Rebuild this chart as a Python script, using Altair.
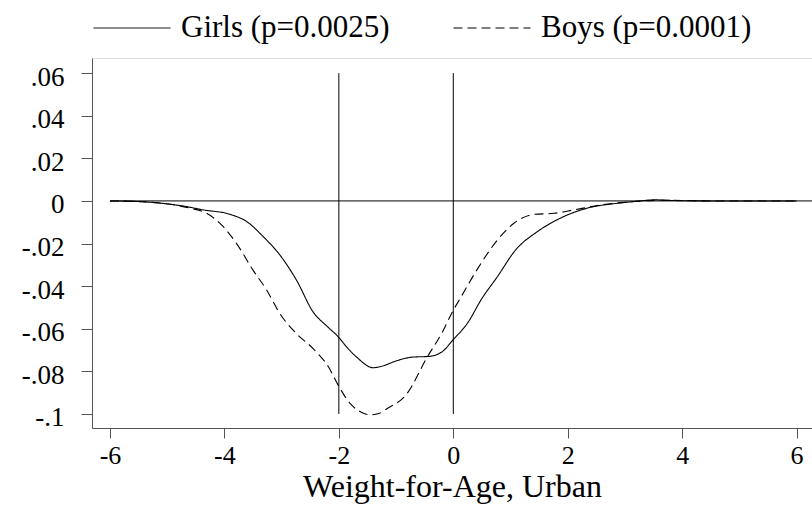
import altair as alt
import pandas as pd

# Difference curves by weight-for-age z-score
girls_x = [-6, -5.5, -5.13, -4.7, -4.37, -3.9, -3.61, -3.32, -3.03, -2.74, -2.45, -2.2,
           -2.01, -1.85, -1.69, -1.4, -1.2, -1.05, -0.7, -0.43, -0.2, 0, 0.25, 0.5, 0.77,
           1.09, 1.47, 1.87, 2.34, 2.87, 3.2, 3.51, 3.85, 4.5, 5, 6]
girls_y = [0, -0.0003, -0.001, -0.0025, -0.0042, -0.0063, -0.0097, -0.0168, -0.0254,
           -0.0372, -0.0521, -0.059, -0.0638, -0.069, -0.0733, -0.0783, -0.0772, -0.0756,
           -0.0733, -0.073, -0.0709, -0.0651, -0.0573, -0.0458, -0.0356, -0.023, -0.0144,
           -0.0081, -0.0034, -0.0011, -0.0002, 0.0005, 0.0002, 0, 0, 0]

boys_x = [-6, -5.5, -5.13, -4.6, -4.31, -4.02, -3.79, -3.5, -3.26, -3.03, -2.74, -2.45,
          -2.18, -2.01, -1.8, -1.6, -1.45, -1.3, -1.16, -0.81, -0.46, -0.2, 0, 0.12, 0.41,
          0.77, 1.06, 1.41, 1.76, 2.11, 2.57, 3.16, 3.6, 4.5, 6]
boys_y = [0, -0.0003, -0.001, -0.0034, -0.0058, -0.0121, -0.0199, -0.0325, -0.0419,
          -0.0529, -0.0623, -0.0693, -0.078, -0.0866, -0.0952, -0.0993, -0.1004, -0.0998,
          -0.0976, -0.0905, -0.0735, -0.062, -0.0513, -0.0458, -0.0325, -0.0184, -0.0105,
          -0.0063, -0.0058, -0.0042, -0.0019, -0.0003, 0.0003, 0, 0]

series_names = ["Girls (p=0.0025)", "Boys (p=0.0001)"]

x_ticks = [-6, -4, -2, 0, 2, 4, 6]
y_ticks = [-0.1, -0.08, -0.06, -0.04, -0.02, 0, 0.02, 0.04, 0.06]
x_domain = [-6.314, 6.269]
y_domain = [-0.1066, 0.0671]

# Reference lines
vlines_x = [-2, 0]
vline_top, vline_bottom = 0.06, -0.1
hline_y = 0
hline_start = -6

FONT = "Liberation Serif"

curves = pd.concat([
    pd.DataFrame({"z": girls_x, "diff": girls_y, "group": series_names[0], "order": range(len(girls_x))}),
    pd.DataFrame({"z": boys_x, "diff": boys_y, "group": series_names[1], "order": range(len(boys_x))}),
])

xscale = alt.Scale(domain=x_domain, nice=False, zero=False)
yscale = alt.Scale(domain=y_domain, nice=False, zero=False)

x_axis = alt.Axis(
    values=x_ticks, title="Weight-for-Age, Urban", grid=False,
    labelExpr="'' + datum.value", labelFont=FONT, labelFontSize=26, labelColor="black",
    labelPadding=4, tickSize=10, tickColor="#555", domainColor="#555",
    titleFont=FONT, titleFontSize=32, titleFontWeight="normal", titleColor="black",
    titlePadding=3,
)
y_axis = alt.Axis(
    values=y_ticks, title=None, grid=False,
    labelExpr="replace('' + datum.value, '0.', '.')",
    labelFont=FONT, labelFontSize=27, labelColor="black", labelPadding=17,
    labelBaseline="middle", labelOffset=4,
    tickSize=11, tickColor="#555", domainColor="#555",
)

lines = alt.Chart(curves).mark_line(
    color="black", strokeWidth=1.1, interpolate="monotone"
).encode(
    x=alt.X("z:Q", scale=xscale, axis=x_axis),
    y=alt.Y("diff:Q", scale=yscale, axis=y_axis),
    strokeDash=alt.StrokeDash(
        "group:N",
        scale=alt.Scale(domain=series_names, range=[[1, 0], [9, 5]]),
        legend=alt.Legend(
            title=None, orient="none", legendX=1, legendY=-69, direction="horizontal",
            symbolType="stroke", symbolSize=5929, symbolStrokeWidth=1,
            symbolStrokeColor="black", labelFont=FONT, labelFontSize=31,
            labelColor="black", labelOffset=10, columnPadding=61, labelLimit=400,
        ),
    ),
    order="order:Q",
)

vdf = pd.DataFrame({"x": vlines_x, "top": vline_top, "bottom": vline_bottom})
vrules = alt.Chart(vdf).mark_rule(color="black", strokeWidth=1).encode(
    x=alt.X("x:Q", scale=xscale), y=alt.Y("top:Q", scale=yscale), y2="bottom:Q"
)

hdf = pd.DataFrame({"y": [hline_y], "start": [hline_start], "end": [x_domain[1]]})
hrule = alt.Chart(hdf).mark_rule(color="black", strokeWidth=1).encode(
    y=alt.Y("y:Q", scale=yscale), x=alt.X("start:Q", scale=xscale), x2="end:Q"
)

chart = alt.layer(hrule, vrules, lines).properties(
    width=720, height=370,
    autosize=alt.AutoSizeParams(type="none"),
    padding={"left": 92, "top": 58, "right": 0, "bottom": 81},
).configure_view(stroke=None).configure(background="white")

chart.save("out.html", embed_options={"renderer": "svg", "actions": False})
